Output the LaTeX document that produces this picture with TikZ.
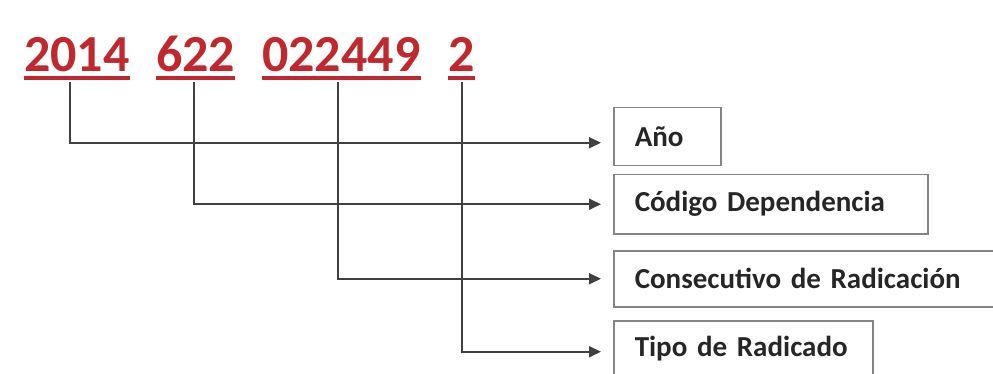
\documentclass[tikz,border=0pt]{standalone}
\usepackage{fontspec}
\setmainfont{Carlito}[WordSpace=0.6]
\usetikzlibrary{arrows.meta,positioning}
\definecolor{numred}{HTML}{C0282D}
\definecolor{linegray}{HTML}{404040}
\definecolor{boxgray}{HTML}{858585}
\tikzset{
  num/.style     = {inner sep=0pt,anchor=base west,text=numred,
                     font=\fontsize{52}{52}\selectfont\bfseries},
  numline/.style = {draw=numred,line width=3.5pt},
  field/.style   = {draw=boxgray,line width=1.5pt,anchor=north west,
                     inner xsep=21pt,inner ysep=0pt,align=left,
                     font=\fontsize{29}{29}\selectfont\bfseries,text=black!85},
  conn/.style    = {draw=linegray,line width=1.8pt,shorten >=12pt,
                     -{Triangle[length=12pt,width=11pt]}},
}

\begin{document}
\begin{tikzpicture}[x=1pt,y=-1pt]
  \clip (0,0) rectangle (993,374);
  \useasboundingbox (0,0) rectangle (993,374);

  % Numero de radicado
  \node[num] (anio) at (24,72)  {2014};
  \node[num] (dep)  at (156,72) {622};
  \node[num] (cons) at (262,72) {022449};
  \node[num] (tipo) at (448,72) {2};
  \foreach \n in {anio,dep,cons,tipo}
    \draw[numline] ([yshift=-6pt]\n.base west) -- ([yshift=-6pt]\n.base east);

  % Campos
  \node[field,minimum width=107pt,minimum height=58pt,text width=65pt]
      (fanio) at (613,107) {Año};
  \node[field,minimum width=314pt,minimum height=59pt,text width=272pt]
      (fdep) at (613,174) {Código Dependencia};
  \node[field,minimum width=400pt,minimum height=56pt,text width=358pt]
      (fcons) at (613,250) {Consecutivo de Radicación};
  \node[field,minimum width=259pt,minimum height=56pt,text width=217pt]
      (ftipo) at (613,320) {Tipo de Radicado};

  % Conectores
  \coordinate (tanio) at (70,82);
  \coordinate (tdep)  at (194,82);
  \coordinate (tcons) at (338,82);
  \coordinate (ttipo) at (462,82);
  \draw[conn] (tanio) |- ([yshift=-6pt]fanio.west);
  \draw[conn] (tdep)  |- (fdep.west);
  \draw[conn] (tcons) |- (fcons.west);
  \draw[conn] (ttipo) |- ([yshift=-3pt]ftipo.west);
\end{tikzpicture}
\end{document}
